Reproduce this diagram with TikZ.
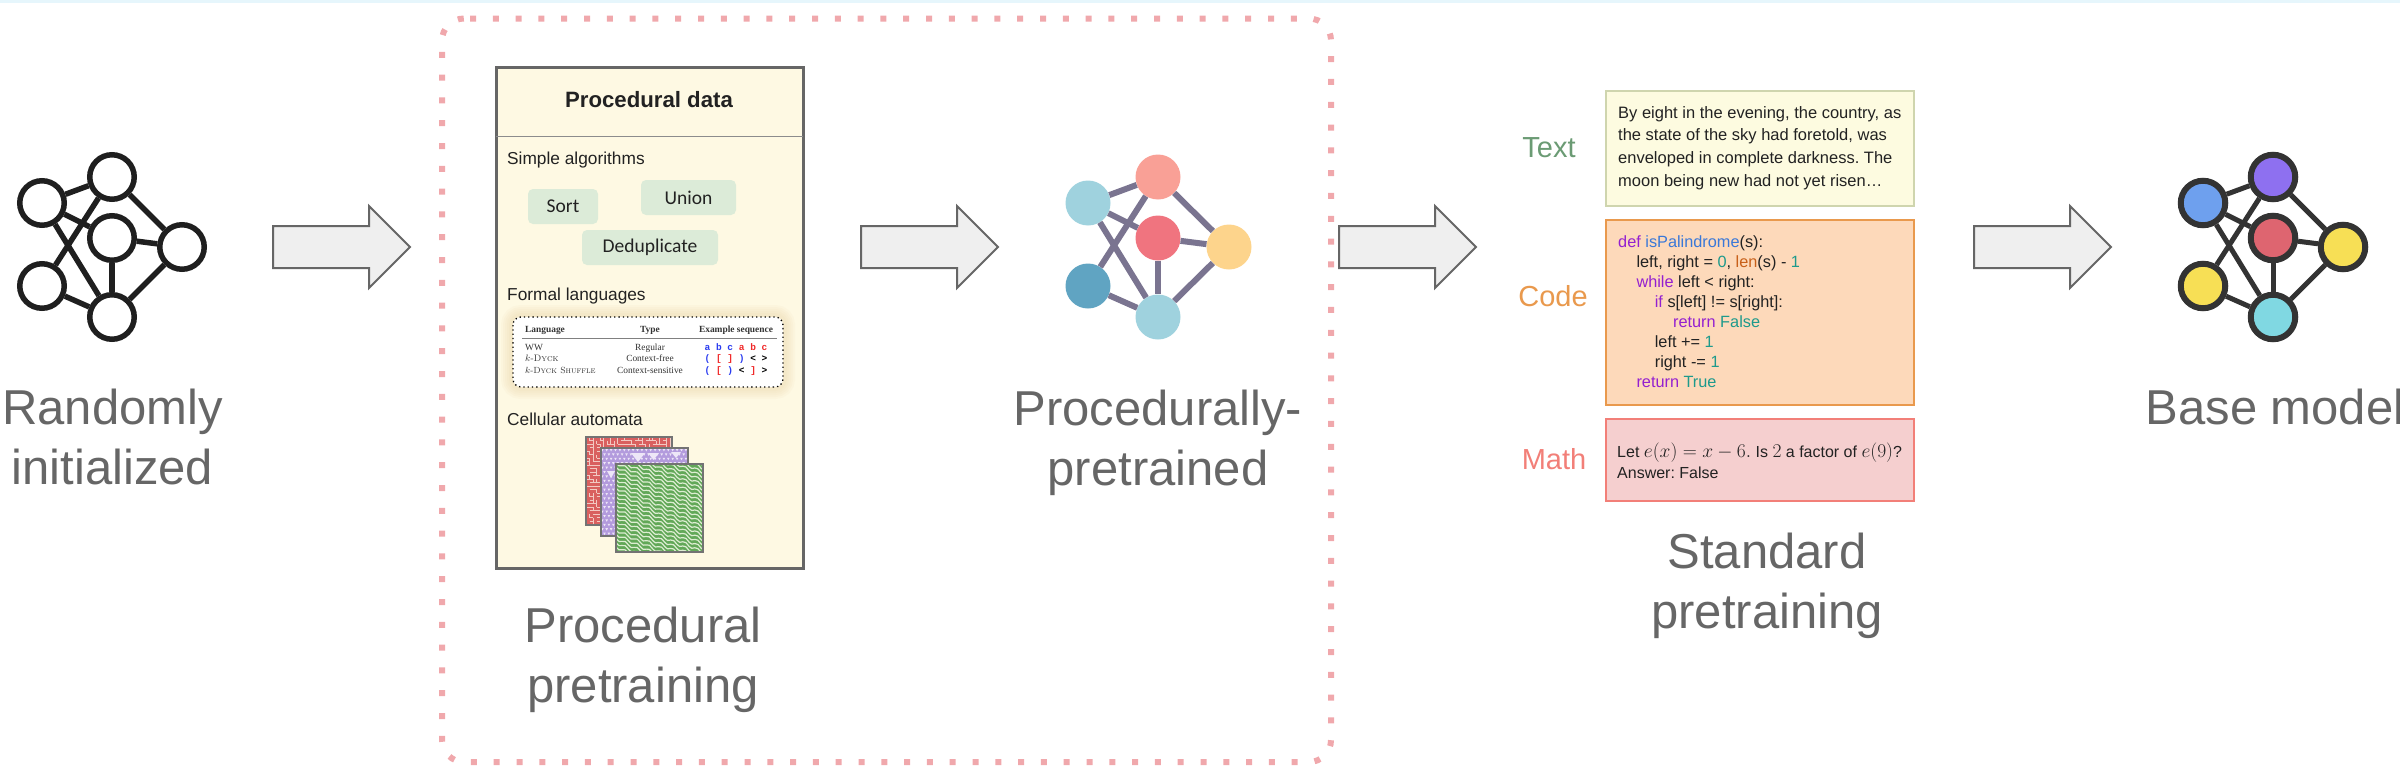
\documentclass[tikz,border=0pt]{standalone}
\usepackage{fix-cm}
\usepackage{amsmath, amssymb}
\usepackage{fontspec}
\newfontfamily\arialface{Liberation Sans}
\newfontfamily\timesface{Liberation Serif}
\newfontfamily\courface{Liberation Mono}
\newfontfamily\handface{Carlito}
\usetikzlibrary{shapes.arrows}

\begin{document}
\begin{tikzpicture}
	[x=1pt,y=-1pt,
	%Styles
	caption/.style={align=center,text=capgray,anchor=base,font=\arialface\fontsize{49}{60}\selectfont},
	block arrow/.style={single arrow,draw=arrowgray,fill=arrowfill,line width=2pt,minimum height=137pt,
		single arrow head extend=20pt,single arrow tip angle=90,inner xsep=0pt,inner ysep=20pt,outer sep=0pt,anchor=tail},
	net node/.style={circle,inner sep=0pt,minimum size=45pt},
	ring node/.style={circle,inner sep=0pt,minimum size=44.5pt},
	heading/.style={anchor=base west,inner sep=0pt,text=inkblack,font=\arialface\fontsize{17.3}{20}\selectfont},
	task/.style={rounded corners=5pt,fill=taskgreen,text=inkblack,minimum height=35pt,inner sep=0pt,font=\handface\fontsize{19.5}{22}\selectfont},
	cell/.style={anchor=base,inner sep=0pt,text=tablegray,font=\timesface\fontsize{9.4}{11}\selectfont},
	seq/.style={anchor=base,inner sep=0pt,font=\courface\bfseries\fontsize{9.5}{11}\selectfont},
	kind/.style={anchor=base,inner sep=0pt,font=\arialface\fontsize{29}{32}\selectfont},
	sample/.style={anchor=base west,inner sep=0pt,align=left,text=inkblack},
	panel/.style={line width=2.5pt},
	automaton/.style={draw=black!55,line width=1.5pt}
	]
	
	%Colors
	\definecolor{capgray}{HTML}{666666}
	\definecolor{arrowgray}{HTML}{666666}
	\definecolor{arrowfill}{HTML}{EFEFEF}
	\definecolor{inkblack}{HTML}{222222}
	\definecolor{topband}{HTML}{E6F6FC}
	\definecolor{dotred}{HTML}{F0A8AC}
	\definecolor{cardfill}{HTML}{FEF9E3}
	\definecolor{taskgreen}{HTML}{DCEBD8}
	\definecolor{tablegray}{HTML}{333333}
	\definecolor{glowtan}{HTML}{E2B878}
	\definecolor{seqblue}{HTML}{2A3CF0}
	\definecolor{seqred}{HTML}{F02A2A}
	\definecolor{edgegray}{HTML}{7A7490}
	\definecolor{kwpurple}{HTML}{9420D0}
	\definecolor{fnblue}{HTML}{3A78D8}
	\definecolor{biorange}{HTML}{C8601A}
	\definecolor{numteal}{HTML}{1E9A8C}
	\definecolor{cared}{HTML}{D9605F}
	\definecolor{capalered}{HTML}{F2C9C2}
	\definecolor{capurple}{HTML}{B39BDD}
	\definecolor{capalepurple}{HTML}{EDE6F7}
	\definecolor{cagreen}{HTML}{62A858}
	\definecolor{capalegreen}{HTML}{DDEDD2}
	
	\useasboundingbox (0,0) rectangle (2400,771);
	\fill[topband] (0,0) rectangle (2400,3.3);
	
	%Dotted frame
	\draw[dotred,line width=6pt,dash pattern=on 6pt off 16.8pt,rounded corners=22pt]
		(470,18.5) -- (1331,18.5) -- (1331,762) -- (442,762) -- (442,18.5) -- (470,18.5);
	
	%Randomly initialized net
	\foreach \name/\x/\y in {t/112/177,l/42/203,m/112/238,r/182/247,d/42/286,b/112/317}
		\node[ring node,draw=black!88,line width=5.5pt,fill=white] (a\name) at (\x,\y) {};
	\foreach \from/\to in {l/t,l/m,l/b,t/d,t/r,m/r,m/b,d/b,r/b}
		\draw[black!88,line width=5.5pt] (a\from) -- (a\to);
	\node[caption] (acap) at (112.5,484) {Randomly\\initialized};
	
	\node[block arrow] (arrowa) at (273,247) {};
	
	%Procedural data card
	\draw[fill=cardfill,draw=arrowgray,line width=3pt] (496,67) rectangle (803,568);
	\draw[black!45,line width=1pt] (496,136) -- (803,136);
	\node[anchor=base,inner sep=0pt,text=inkblack,font=\arialface\bfseries\fontsize{22.2}{26}\selectfont] (cardtitle) at (649,107) {Procedural data};
	\node[heading] (algos) at (507,164) {Simple algorithms};
	\node[task,minimum width=70pt] (sort) at (563,206.5) {Sort};
	\node[task,minimum width=95pt] (union) at (688.5,197.5) {Union};
	\node[task,minimum width=136pt] (dedup) at (650,247.5) {Deduplicate};
	\node[heading] (formal) at (507,300) {Formal languages};
	\node[heading] (cellular) at (507,425) {Cellular automata};
	
	%Table of languages
	\foreach \w in {24,20,16,12,8}
		\draw[glowtan,opacity=.05,line width=\w pt,rounded corners=8pt] (513,317) rectangle (783,387);
	\draw[fill=white,draw=black,dash pattern=on 1.3pt off 3pt,line width=1.3pt,rounded corners=8pt] (513,317) rectangle (783,387);
	\draw[black!50,line width=.8pt] (522,338.5) -- (777,338.5);
	\node[cell,anchor=base west] (hlang) at (525,332) {\bfseries Language};
	\node[cell] (htype) at (650,332) {\bfseries Type};
	\node[cell] (hseq) at (736,332) {\bfseries Example sequence};
	\node[cell,anchor=base west] (lang1) at (525,350) {WW};
	\node[cell,anchor=base west] (lang2) at (525,361.5) {\rmfamily$k$-\textsc{Dyck}};
	\node[cell,anchor=base west,font=\rmfamily\fontsize{8.9}{11}\selectfont] (lang3) at (525,373) {$k$-\textsc{Dyck Shuffle}};
	\node[cell] (type1) at (650,350) {Regular};
	\node[cell] (type2) at (650,361.5) {Context-free};
	\node[cell] (type3) at (650,373) {Context-sensitive};
	\node[seq] (seq1) at (736,350) {\textcolor{seqblue}{a b c} \textcolor{seqred}{a b c}};
	\node[seq] (seq2) at (736,361.5) {\textcolor{seqblue}{(} \textcolor{seqred}{[ ]} \textcolor{seqblue}{)} < >};
	\node[seq] (seq3) at (736,373) {\textcolor{seqblue}{(} \textcolor{seqred}{[} \textcolor{seqblue}{)} < \textcolor{seqred}{]} >};
	
	%Cellular automata
	\fill[cared] (586,437) rectangle (672,525);
	\begin{scope}
		\clip (586,437) rectangle (672,525);
		\pgfmathsetseed{11}
		\foreach \cx in {586,589.5,...,672}
			\foreach \cy in {437,440.5,...,525} {
				\pgfmathsetmacro\flip{int(rnd*2)}
				\ifnum\flip=0
					\draw[capalered,line width=1pt] (\cx,\cy) -- ++(3.5,0);
				\else
					\draw[capalered,line width=1pt] (\cx,\cy) -- ++(0,3.5);
				\fi
			}
	\end{scope}
	\draw[automaton] (586,437) rectangle (672,525);
	
	\fill[capurple] (601,448) rectangle (688,536);
	\begin{scope}
		\clip (601,448) rectangle (688,536);
		\foreach \row in {0,...,19}
			\foreach \col in {0,...,19}
				\fill[capalepurple] ({601+\col*4.4+mod(\row,2)*2.2},{449+\row*4.4}) -- ++(2.6,0) -- ++(-1.3,2.4) -- cycle;
		\fill[capalepurple] (631,453) -- (645,453) -- (638,462) -- cycle;
		\fill[capalepurple] (648,453) -- (659,453) -- (653.5,460) -- cycle;
		\fill[capalepurple] (671,452) -- (681,452) -- (676,458) -- cycle;
		\fill[capalepurple] (607,471) -- (615,471) -- (611,478) -- cycle;
	\end{scope}
	\draw[automaton] (601,448) rectangle (688,536);
	
	\fill[cagreen] (616,464) rectangle (703,552);
	\begin{scope}
		\clip (616,464) rectangle (703,552);
		\foreach \yy in {-60,-55.8,...,90}
			\draw[capalegreen,line width=1.2pt] plot[domain=0:88,samples=30,smooth] ({616+\x},{464+\yy+.5*\x+1.5*sin(30*\x)});
	\end{scope}
	\draw[automaton] (616,464) rectangle (703,552);
	
	\node[caption] (pcap) at (643,702) {Procedural\\pretraining};
	
	\node[block arrow] (arrowb) at (861,247) {};
	
	%Procedurally-pretrained net
	\foreach \name/\x/\y/\col in {t/1158/177/F9A096,l/1088/203/9FD2DE,m/1158/238/F0747F,r/1229/247/FDD48C,d/1088/286/60A4C2,b/1158/317/9FD2DE} {
		\definecolor{nodefill}{HTML}{\col}
		\node[net node,fill=nodefill] (b\name) at (\x,\y) {};
	}
	\foreach \from/\to in {l/t,l/m,l/b,t/d,t/r,m/r,m/b,d/b,r/b}
		\draw[edgegray,line width=6pt] (b\from) -- (b\to);
	\node[caption] (bcap) at (1158,485) {Procedurally-\\pretrained};
	
	\node[block arrow] (arrowc) at (1339,247) {};
	
	%Standard pretraining
	\definecolor{greenlab}{HTML}{6B9B74}
	\definecolor{orangelab}{HTML}{E9994D}
	\definecolor{redlab}{HTML}{F27F78}
	\node[kind,text=greenlab] (textlab) at (1549,157) {Text};
	\node[kind,text=orangelab] (codelab) at (1553,306) {Code};
	\node[kind,text=redlab] (mathlab) at (1554,469) {Math};
	
	\definecolor{textfill}{HTML}{FDFBE0}
	\definecolor{textline}{HTML}{CFD5AE}
	\definecolor{codefill}{HTML}{FDD9BA}
	\definecolor{mathfill}{HTML}{F5CFCF}
	\draw[panel,fill=textfill,draw=textline] (1606,91) rectangle (1914,206);
	\draw[panel,fill=codefill,draw=orangelab] (1606,220) rectangle (1914,405);
	\draw[panel,fill=mathfill,draw=redlab] (1606,419) rectangle (1914,501);
	
	\node[sample,font=\arialface\fontsize{16.5}{22.6}\selectfont\frenchspacing] (textbody) at (1618,186)
		{By eight in the evening, the country, as\\the state of the sky had foretold, was\\enveloped in complete darkness. The\\moon being new had not yet risen\ldots};
	\node[sample,font=\arialface\fontsize{16.3}{20}\selectfont] (codebody) at (1618,387)
		{\textcolor{kwpurple}{def} \textcolor{fnblue}{isPalindrome}(s):\\
		\hspace*{18.3pt}left, right = \textcolor{numteal}{0}, \textcolor{biorange}{len}(s) - \textcolor{numteal}{1}\\
		\hspace*{18.3pt}\textcolor{kwpurple}{while} left < right:\\
		\hspace*{36.6pt}\textcolor{kwpurple}{if} s[left] != s[right]:\\
		\hspace*{54.9pt}\textcolor{kwpurple}{return} \textcolor{numteal}{False}\\
		\hspace*{36.6pt}left += \textcolor{numteal}{1}\\
		\hspace*{36.6pt}right -= \textcolor{numteal}{1}\\
		\hspace*{18.3pt}\textcolor{kwpurple}{return} \textcolor{numteal}{True}};
	\node[sample,font=\arialface\fontsize{16}{21}\selectfont\frenchspacing] (mathbody) at (1617,478)
		{Let {\fontsize{19.5}{21}\selectfont$e(x) = x - 6.$} Is {\fontsize{19.5}{21}\selectfont$2$} a factor of {\fontsize{19.5}{21}\selectfont$e(9)$}?\\Answer: False};
	\node[caption] (scap) at (1767,628) {Standard\\pretraining};
	
	\node[block arrow] (arrowd) at (1974,247) {};
	
	%Base model net
	\foreach \name/\x/\y/\col in {t/2273/177/8E70F0,l/2203/203/6EA0EE,m/2273/238/DE6570,r/2343/247/F7DF55,d/2203/286/F7DF55,b/2273/317/80D8E2} {
		\definecolor{nodefill}{HTML}{\col}
		\node[ring node,draw=black!80,line width=6pt,fill=nodefill] (c\name) at (\x,\y) {};
	}
	\foreach \from/\to in {l/t,l/m,l/b,t/d,t/r,m/r,m/b,d/b,r/b}
		\draw[black!80,line width=5pt] (c\from) -- (c\to);
	\node[caption] (ccap) at (2275,424) {Base model};
\end{tikzpicture}
\end{document}
